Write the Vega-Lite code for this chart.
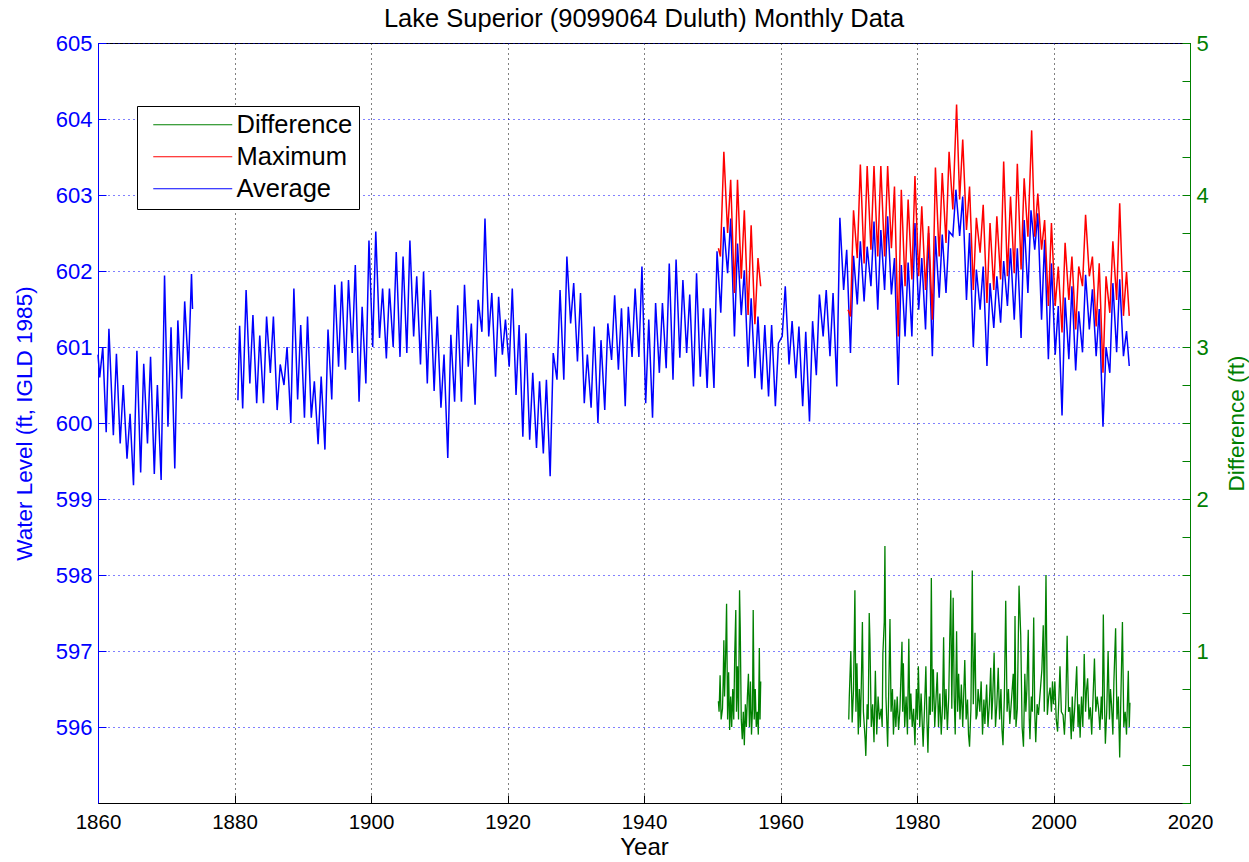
{
  "$schema": "https://vega.github.io/schema/vega-lite/v6.json",
  "width": 1092,
  "height": 760,
  "autosize": {"type": "none"},
  "padding": {"left": 98, "top": 43, "right": 59, "bottom": 59},
  "background": "white",
  "title": {"text": "Lake Superior (9099064 Duluth) Monthly Data", "fontSize": 25.5, "fontWeight": "normal", "font": "Liberation Sans", "color": "black", "offset": 0, "anchor": "middle"},
  "config": {
    "font": "Liberation Sans",
    "view": {"stroke": "black", "strokeWidth": 1},
    "axis": {"labelFont": "Liberation Sans", "titleFont": "Liberation Sans", "titleFontWeight": "normal", "labelFontSize": 22, "titleFontSize": 22.5, "tickSize": -8, "labelPadding": 14, "gridWidth": 1, "labelFlush": false}
  },
  "datasets": {
    "avg": [
      {"t":1860.0,"v":600.9},{"t":1860.25,"v":600.6},{"t":1860.7,"v":601.0},
      {"t":1861.2,"v":599.88},{"t":1861.6,"v":601.24},
      {"t":1862.25,"v":599.84},{"t":1862.7,"v":600.91},
      {"t":1863.25,"v":599.73},{"t":1863.7,"v":600.5},
      {"t":1864.25,"v":599.53},{"t":1864.7,"v":600.12},
      {"t":1865.2,"v":599.18},{"t":1865.7,"v":600.95},
      {"t":1866.25,"v":599.35},{"t":1866.7,"v":600.78},
      {"t":1867.25,"v":599.73},{"t":1867.7,"v":600.87},
      {"t":1868.25,"v":599.33},{"t":1868.7,"v":600.5},
      {"t":1869.25,"v":599.25},{"t":1869.75,"v":601.94},
      {"t":1870.25,"v":599.95},{"t":1870.7,"v":601.26},
      {"t":1871.25,"v":599.4},{"t":1871.7,"v":601.35},
      {"t":1872.25,"v":600.32},{"t":1872.7,"v":601.6},
      {"t":1873.25,"v":600.7},{"t":1873.7,"v":601.96},{"t":1873.85,"v":601.5},
      {"t":1877.0,"v":null},
      {"t":1880.5,"v":600.3},{"t":1880.75,"v":601.28},
      {"t":1881.2,"v":600.19},{"t":1881.7,"v":601.75},
      {"t":1882.25,"v":600.52},{"t":1882.7,"v":601.42},
      {"t":1883.25,"v":600.26},{"t":1883.7,"v":601.15},
      {"t":1884.25,"v":600.26},{"t":1884.7,"v":601.4},
      {"t":1885.25,"v":600.66},{"t":1885.7,"v":601.4},
      {"t":1886.25,"v":600.17},{"t":1886.7,"v":600.77},
      {"t":1887.25,"v":600.5},{"t":1887.7,"v":601.0},
      {"t":1888.25,"v":600.0},{"t":1888.7,"v":601.77},
      {"t":1889.25,"v":600.31},{"t":1889.7,"v":601.29},
      {"t":1890.25,"v":600.07},{"t":1890.7,"v":601.4},
      {"t":1891.25,"v":600.07},{"t":1891.7,"v":600.55},
      {"t":1892.25,"v":599.72},{"t":1892.7,"v":600.61},
      {"t":1893.25,"v":599.65},{"t":1893.7,"v":601.23},
      {"t":1894.25,"v":600.31},{"t":1894.7,"v":601.82},
      {"t":1895.25,"v":600.74},{"t":1895.7,"v":601.86},
      {"t":1896.25,"v":600.7},{"t":1896.7,"v":601.88},
      {"t":1897.25,"v":600.92},{"t":1897.7,"v":602.08},
      {"t":1898.25,"v":600.28},{"t":1898.7,"v":601.53},
      {"t":1899.25,"v":600.52},{"t":1899.7,"v":602.4},
      {"t":1900.25,"v":601.0},{"t":1900.7,"v":602.52},
      {"t":1901.25,"v":601.12},{"t":1901.7,"v":601.77},
      {"t":1902.25,"v":600.85},{"t":1902.7,"v":601.77},
      {"t":1903.25,"v":601.0},{"t":1903.7,"v":602.25},
      {"t":1904.25,"v":600.87},{"t":1904.7,"v":602.19},
      {"t":1905.25,"v":600.92},{"t":1905.7,"v":602.4},
      {"t":1906.25,"v":601.14},{"t":1906.7,"v":601.93},
      {"t":1907.25,"v":600.77},{"t":1907.7,"v":601.99},
      {"t":1908.25,"v":600.52},{"t":1908.7,"v":601.75},
      {"t":1909.25,"v":600.42},{"t":1909.7,"v":601.4},
      {"t":1910.25,"v":600.2},{"t":1910.7,"v":600.9},
      {"t":1911.25,"v":599.54},{"t":1911.7,"v":601.16},
      {"t":1912.25,"v":600.28},{"t":1912.7,"v":601.55},
      {"t":1913.25,"v":600.28},{"t":1913.7,"v":601.82},
      {"t":1914.25,"v":600.74},{"t":1914.7,"v":601.31},
      {"t":1915.25,"v":600.24},{"t":1915.7,"v":601.62},
      {"t":1916.25,"v":601.2},{"t":1916.7,"v":602.69},
      {"t":1917.25,"v":601.14},{"t":1917.7,"v":601.71},
      {"t":1918.25,"v":600.61},{"t":1918.7,"v":601.66},
      {"t":1919.25,"v":600.9},{"t":1919.7,"v":601.36},
      {"t":1920.25,"v":600.74},{"t":1920.7,"v":601.77},
      {"t":1921.25,"v":600.37},{"t":1921.7,"v":601.29},
      {"t":1922.25,"v":599.82},{"t":1922.7,"v":601.18},
      {"t":1923.25,"v":599.78},{"t":1923.7,"v":600.66},
      {"t":1924.25,"v":599.67},{"t":1924.7,"v":600.55},
      {"t":1925.25,"v":599.6},{"t":1925.7,"v":600.57},
      {"t":1926.25,"v":599.3},{"t":1926.7,"v":600.92},
      {"t":1927.25,"v":600.57},{"t":1927.7,"v":601.75},
      {"t":1928.25,"v":600.57},{"t":1928.7,"v":602.19},
      {"t":1929.25,"v":601.31},{"t":1929.7,"v":601.84},
      {"t":1930.25,"v":600.81},{"t":1930.7,"v":601.71},
      {"t":1931.25,"v":600.26},{"t":1931.7,"v":600.9},
      {"t":1932.25,"v":600.2},{"t":1932.7,"v":601.27},
      {"t":1933.25,"v":600.0},{"t":1933.7,"v":601.09},
      {"t":1934.25,"v":600.17},{"t":1934.7,"v":601.31},
      {"t":1935.25,"v":600.83},{"t":1935.7,"v":601.68},
      {"t":1936.25,"v":600.7},{"t":1936.7,"v":601.51},
      {"t":1937.25,"v":600.22},{"t":1937.7,"v":601.53},
      {"t":1938.25,"v":600.87},{"t":1938.7,"v":601.77},
      {"t":1939.25,"v":600.87},{"t":1939.7,"v":602.06},
      {"t":1940.25,"v":600.26},{"t":1940.7,"v":601.36},
      {"t":1941.25,"v":600.07},{"t":1941.7,"v":601.58},
      {"t":1942.25,"v":600.66},{"t":1942.7,"v":601.58},
      {"t":1943.25,"v":600.72},{"t":1943.7,"v":602.1},
      {"t":1944.25,"v":600.57},{"t":1944.7,"v":602.15},
      {"t":1945.25,"v":600.86},{"t":1945.7,"v":601.88},
      {"t":1946.25,"v":600.92},{"t":1946.7,"v":601.69},
      {"t":1947.25,"v":600.48},{"t":1947.7,"v":601.97},
      {"t":1948.25,"v":600.61},{"t":1948.7,"v":601.51},
      {"t":1949.25,"v":600.46},{"t":1949.7,"v":601.51},
      {"t":1950.25,"v":600.46},{"t":1950.7,"v":602.26},
      {"t":1951.25,"v":601.45},{"t":1951.7,"v":602.58},
      {"t":1952.25,"v":601.97},{"t":1952.7,"v":602.69},
      {"t":1953.25,"v":601.14},{"t":1953.7,"v":602.36},
      {"t":1954.25,"v":601.42},{"t":1954.7,"v":602.01},
      {"t":1955.25,"v":600.74},{"t":1955.7,"v":601.64},
      {"t":1956.25,"v":600.59},{"t":1956.7,"v":601.4},
      {"t":1957.25,"v":600.44},{"t":1957.7,"v":601.29},
      {"t":1958.25,"v":600.35},{"t":1958.7,"v":601.29},
      {"t":1959.25,"v":600.22},{"t":1959.7,"v":601.05},
      {"t":1960.25,"v":601.14},{"t":1960.7,"v":601.8},
      {"t":1961.25,"v":600.77},{"t":1961.7,"v":601.34},
      {"t":1962.25,"v":600.59},{"t":1962.7,"v":601.27},
      {"t":1963.25,"v":600.22},{"t":1963.7,"v":601.2},
      {"t":1964.25,"v":600.02},{"t":1964.7,"v":601.34},
      {"t":1965.25,"v":600.63},{"t":1965.7,"v":601.69},
      {"t":1966.25,"v":601.14},{"t":1966.7,"v":601.75},
      {"t":1967.25,"v":600.88},{"t":1967.7,"v":601.71},
      {"t":1968.25,"v":600.48},{"t":1968.7,"v":602.7},
      {"t":1969.25,"v":601.75},{"t":1969.7,"v":602.28},
      {"t":1970.25,"v":600.92},{"t":1970.7,"v":602.2},
      {"t":1971.25,"v":601.56},{"t":1971.7,"v":602.39},
      {"t":1972.25,"v":601.6},{"t":1972.7,"v":602.32},
      {"t":1973.25,"v":601.8},{"t":1973.7,"v":602.65},
      {"t":1974.25,"v":601.49},{"t":1974.7,"v":602.54},
      {"t":1975.25,"v":601.75},{"t":1975.7,"v":602.72},
      {"t":1976.25,"v":601.69},{"t":1976.7,"v":602.17},
      {"t":1977.25,"v":600.5},{"t":1977.7,"v":602.08},
      {"t":1978.25,"v":601.14},{"t":1978.7,"v":602.11},
      {"t":1979.25,"v":601.14},{"t":1979.7,"v":602.63},
      {"t":1980.25,"v":601.49},{"t":1980.7,"v":602.17},
      {"t":1981.25,"v":601.23},{"t":1981.7,"v":602.5},
      {"t":1982.25,"v":600.88},{"t":1982.7,"v":602.46},
      {"t":1983.25,"v":601.65},{"t":1983.7,"v":602.48},
      {"t":1984.25,"v":601.71},{"t":1984.7,"v":602.52},
      {"t":1985.25,"v":602.46},{"t":1985.7,"v":603.07},
      {"t":1986.25,"v":602.46},{"t":1986.7,"v":602.98},
      {"t":1987.25,"v":601.62},{"t":1987.7,"v":602.5},
      {"t":1988.25,"v":601.0},{"t":1988.7,"v":602.02},
      {"t":1989.25,"v":601.49},{"t":1989.7,"v":602.06},
      {"t":1990.25,"v":600.75},{"t":1990.7,"v":601.84},
      {"t":1991.25,"v":601.25},{"t":1991.7,"v":601.93},
      {"t":1992.25,"v":601.32},{"t":1992.7,"v":602.13},
      {"t":1993.25,"v":601.54},{"t":1993.7,"v":602.3},
      {"t":1994.25,"v":601.36},{"t":1994.7,"v":602.3},
      {"t":1995.25,"v":601.12},{"t":1995.7,"v":602.67},
      {"t":1996.25,"v":601.71},{"t":1996.7,"v":602.8},
      {"t":1997.25,"v":602.28},{"t":1997.7,"v":602.76},
      {"t":1998.25,"v":601.36},{"t":1998.7,"v":602.41},
      {"t":1999.25,"v":600.84},{"t":1999.7,"v":602.1},
      {"t":2000.25,"v":600.9},{"t":2000.7,"v":601.54},
      {"t":2001.25,"v":600.1},{"t":2001.7,"v":601.65},
      {"t":2002.25,"v":600.84},{"t":2002.7,"v":601.8},
      {"t":2003.25,"v":600.69},{"t":2003.7,"v":601.47},
      {"t":2004.25,"v":600.93},{"t":2004.7,"v":601.95},
      {"t":2005.25,"v":601.23},{"t":2005.7,"v":601.76},
      {"t":2006.25,"v":600.88},{"t":2006.7,"v":601.5},
      {"t":2007.25,"v":599.95},{"t":2007.7,"v":601.0},
      {"t":2008.25,"v":600.66},{"t":2008.7,"v":601.84},
      {"t":2009.25,"v":600.93},{"t":2009.7,"v":601.89},
      {"t":2010.25,"v":600.88},{"t":2010.7,"v":601.21},
      {"t":2011.1,"v":600.75}
    ],
    "max": [
      {"t":1950.9,"v":602.3},{"t":1951.2,"v":602.19},{"t":1951.7,"v":603.57},
      {"t":1952.25,"v":602.5},{"t":1952.7,"v":603.2},
      {"t":1953.25,"v":601.71},{"t":1953.7,"v":603.2},
      {"t":1954.25,"v":601.9},{"t":1954.7,"v":602.8},
      {"t":1955.25,"v":601.42},{"t":1955.7,"v":602.6},
      {"t":1956.25,"v":601.3},{"t":1956.7,"v":602.17},
      {"t":1957.1,"v":601.8},
      {"t":1963.0,"v":null},
      {"t":1969.9,"v":601.49},{"t":1970.25,"v":601.4},{"t":1970.7,"v":602.8},
      {"t":1971.25,"v":602.17},{"t":1971.7,"v":603.4},
      {"t":1972.25,"v":602.1},{"t":1972.7,"v":603.38},
      {"t":1973.25,"v":602.28},{"t":1973.7,"v":603.38},
      {"t":1974.25,"v":602.19},{"t":1974.7,"v":603.38},
      {"t":1975.25,"v":602.19},{"t":1975.7,"v":603.38},
      {"t":1976.25,"v":602.3},{"t":1976.7,"v":603.11},
      {"t":1977.25,"v":601.14},{"t":1977.7,"v":603.07},
      {"t":1978.25,"v":601.8},{"t":1978.7,"v":602.94},
      {"t":1979.25,"v":601.89},{"t":1979.7,"v":603.25},
      {"t":1980.25,"v":601.93},{"t":1980.7,"v":602.85},
      {"t":1981.25,"v":601.75},{"t":1981.7,"v":602.59},
      {"t":1982.25,"v":601.36},{"t":1982.7,"v":603.36},
      {"t":1983.25,"v":602.19},{"t":1983.7,"v":603.29},
      {"t":1984.25,"v":602.37},{"t":1984.7,"v":603.57},
      {"t":1985.25,"v":602.81},{"t":1985.8,"v":604.19},
      {"t":1986.25,"v":602.94},{"t":1986.7,"v":603.73},
      {"t":1987.25,"v":602.54},{"t":1987.7,"v":603.11},
      {"t":1988.25,"v":601.75},{"t":1988.7,"v":602.7},
      {"t":1989.25,"v":602.24},{"t":1989.7,"v":602.87},
      {"t":1990.25,"v":601.58},{"t":1990.7,"v":602.63},
      {"t":1991.25,"v":601.75},{"t":1991.7,"v":602.72},
      {"t":1992.25,"v":601.89},{"t":1992.7,"v":603.44},
      {"t":1993.25,"v":601.93},{"t":1993.7,"v":602.98},
      {"t":1994.25,"v":601.97},{"t":1994.7,"v":603.41},
      {"t":1995.25,"v":602.02},{"t":1995.7,"v":603.22},
      {"t":1996.25,"v":602.45},{"t":1996.8,"v":603.85},
      {"t":1997.25,"v":602.45},{"t":1997.7,"v":603.02},
      {"t":1998.25,"v":602.28},{"t":1998.7,"v":602.67},
      {"t":1999.25,"v":601.54},{"t":1999.7,"v":602.63},
      {"t":2000.25,"v":601.54},{"t":2000.7,"v":602.06},
      {"t":2001.25,"v":601.19},{"t":2001.7,"v":602.37},
      {"t":2002.25,"v":601.62},{"t":2002.7,"v":602.19},
      {"t":2003.25,"v":601.23},{"t":2003.7,"v":602.06},
      {"t":2004.25,"v":601.8},{"t":2004.7,"v":602.74},
      {"t":2005.25,"v":601.93},{"t":2005.7,"v":602.19},
      {"t":2006.25,"v":601.27},{"t":2006.7,"v":602.1},
      {"t":2007.25,"v":600.66},{"t":2007.7,"v":601.93},
      {"t":2008.25,"v":601.45},{"t":2008.7,"v":602.39},
      {"t":2009.25,"v":601.62},{"t":2009.7,"v":602.89},
      {"t":2010.25,"v":601.41},{"t":2010.7,"v":601.99},
      {"t":2011.1,"v":601.41}
    ],
    "diff": [
      {"t":1950.9,"v":0.67},{"t":1951.0,"v":0.6},{"t":1951.15,"v":0.84},{"t":1951.3,"v":0.55},{"t":1951.5,"v":0.62},{"t":1951.6,"v":0.8},{"t":1951.7,"v":1.07},{"t":1951.8,"v":0.7},{"t":1951.95,"v":0.95},
      {"t":1952.1,"v":1.31},{"t":1952.25,"v":0.55},{"t":1952.4,"v":0.86},{"t":1952.55,"v":0.48},{"t":1952.7,"v":0.7},{"t":1952.85,"v":0.5},
      {"t":1953.0,"v":0.75},{"t":1953.15,"v":0.55},{"t":1953.3,"v":0.99},{"t":1953.45,"v":1.27},{"t":1953.55,"v":0.6},{"t":1953.7,"v":0.9},{"t":1953.85,"v":0.55},
      {"t":1954.0,"v":1.4},{"t":1954.1,"v":1.16},{"t":1954.25,"v":0.55},{"t":1954.4,"v":0.42},{"t":1954.55,"v":0.6},{"t":1954.7,"v":0.38},{"t":1954.85,"v":0.65},
      {"t":1955.0,"v":0.5},{"t":1955.15,"v":0.7},{"t":1955.3,"v":0.85},{"t":1955.45,"v":0.5},{"t":1955.6,"v":0.8},{"t":1955.75,"v":0.45},{"t":1955.9,"v":0.62},
      {"t":1956.0,"v":1.27},{"t":1956.15,"v":0.55},{"t":1956.3,"v":0.75},{"t":1956.45,"v":0.5},{"t":1956.6,"v":0.6},{"t":1956.75,"v":0.45},{"t":1956.9,"v":1.02},
      {"t":1957.0,"v":0.55},{"t":1957.1,"v":0.8},
      {"t":1963.0,"v":null},
      {"t":1970.0,"v":0.55},{"t":1970.08,"v":0.7},{"t":1970.3,"v":1.0},{"t":1970.5,"v":0.53},{"t":1970.7,"v":0.75},{"t":1970.9,"v":1.4},
      {"t":1971.05,"v":0.6},{"t":1971.2,"v":0.92},{"t":1971.4,"v":0.45},{"t":1971.55,"v":0.75},{"t":1971.7,"v":0.5},{"t":1971.85,"v":0.8},
      {"t":1972.0,"v":1.19},{"t":1972.15,"v":0.6},{"t":1972.4,"v":0.42},{"t":1972.5,"v":0.31},{"t":1972.7,"v":0.65},{"t":1972.85,"v":0.55},
      {"t":1973.0,"v":1.25},{"t":1973.1,"v":1.08},{"t":1973.3,"v":0.5},{"t":1973.5,"v":0.65},{"t":1973.7,"v":0.4},{"t":1973.9,"v":0.87},
      {"t":1974.1,"v":0.45},{"t":1974.3,"v":0.7},{"t":1974.5,"v":0.55},{"t":1974.75,"v":0.62},{"t":1974.9,"v":0.5},
      {"t":1975.0,"v":0.98},{"t":1975.2,"v":1.19},{"t":1975.3,"v":1.69},{"t":1975.45,"v":0.7},{"t":1975.7,"v":0.37},{"t":1975.85,"v":0.72},
      {"t":1976.04,"v":1.21},{"t":1976.2,"v":0.6},{"t":1976.4,"v":0.75},{"t":1976.55,"v":0.45},{"t":1976.75,"v":0.68},{"t":1976.9,"v":0.5},
      {"t":1977.1,"v":0.7},{"t":1977.3,"v":0.48},{"t":1977.5,"v":0.62},{"t":1977.8,"v":1.06},{"t":1977.9,"v":0.6},
      {"t":1978.0,"v":0.92},{"t":1978.2,"v":0.5},{"t":1978.4,"v":0.7},{"t":1978.6,"v":0.45},{"t":1978.8,"v":1.08},{"t":1978.95,"v":0.55},
      {"t":1979.1,"v":0.72},{"t":1979.3,"v":0.5},{"t":1979.5,"v":0.62},{"t":1979.7,"v":0.38},{"t":1979.9,"v":0.75},
      {"t":1980.05,"v":0.55},{"t":1980.2,"v":0.9},{"t":1980.4,"v":0.5},{"t":1980.6,"v":0.72},{"t":1980.9,"v":0.37},
      {"t":1981.1,"v":0.62},{"t":1981.3,"v":0.9},{"t":1981.45,"v":0.55},{"t":1981.6,"v":0.33},{"t":1981.8,"v":0.7},{"t":1981.95,"v":0.58},
      {"t":1982.1,"v":1.48},{"t":1982.25,"v":0.6},{"t":1982.4,"v":0.88},{"t":1982.6,"v":0.5},{"t":1982.8,"v":0.7},{"t":1982.97,"v":0.86},
      {"t":1983.15,"v":0.5},{"t":1983.35,"v":0.72},{"t":1983.55,"v":0.45},{"t":1983.75,"v":0.65},{"t":1983.9,"v":1.09},
      {"t":1984.05,"v":0.55},{"t":1984.25,"v":0.75},{"t":1984.45,"v":0.48},{"t":1984.65,"v":0.7},{"t":1984.8,"v":1.08},{"t":1984.95,"v":1.4},
      {"t":1985.1,"v":0.62},{"t":1985.3,"v":1.35},{"t":1985.45,"v":0.7},{"t":1985.6,"v":0.45},{"t":1985.8,"v":1.13},{"t":1985.95,"v":0.6},
      {"t":1986.1,"v":0.85},{"t":1986.3,"v":0.55},{"t":1986.5,"v":0.78},{"t":1986.7,"v":0.5},{"t":1986.85,"v":0.72},
      {"t":1987.0,"v":0.94},{"t":1987.2,"v":0.55},{"t":1987.4,"v":0.68},{"t":1987.55,"v":0.45},{"t":1987.7,"v":0.37},{"t":1987.9,"v":0.62},
      {"t":1988.1,"v":1.53},{"t":1988.25,"v":0.65},{"t":1988.5,"v":1.12},{"t":1988.65,"v":0.55},{"t":1988.8,"v":0.58},{"t":1988.95,"v":0.75},
      {"t":1989.2,"v":0.6},{"t":1989.4,"v":0.8},{"t":1989.6,"v":0.45},{"t":1989.8,"v":0.68},{"t":1989.95,"v":0.52},
      {"t":1990.2,"v":0.78},{"t":1990.4,"v":0.5},{"t":1990.6,"v":0.65},{"t":1990.8,"v":0.89},{"t":1990.95,"v":0.55},
      {"t":1991.1,"v":0.7},{"t":1991.3,"v":0.99},{"t":1991.5,"v":0.5},{"t":1991.7,"v":0.65},{"t":1991.9,"v":0.89},
      {"t":1992.1,"v":0.55},{"t":1992.3,"v":0.75},{"t":1992.45,"v":0.48},{"t":1992.6,"v":0.38},{"t":1992.8,"v":0.7},
      {"t":1993.0,"v":1.33},{"t":1993.2,"v":0.6},{"t":1993.4,"v":0.75},{"t":1993.6,"v":0.52},{"t":1993.8,"v":0.65},
      {"t":1994.1,"v":0.85},{"t":1994.25,"v":0.55},{"t":1994.36,"v":1.23},{"t":1994.5,"v":0.5},{"t":1994.7,"v":0.62},{"t":1994.95,"v":1.43},
      {"t":1995.2,"v":1.1},{"t":1995.4,"v":0.5},{"t":1995.6,"v":0.37},{"t":1995.8,"v":0.85},{"t":1995.95,"v":0.6},
      {"t":1996.1,"v":0.75},{"t":1996.3,"v":1.14},{"t":1996.45,"v":0.55},{"t":1996.55,"v":0.42},{"t":1996.75,"v":0.7},{"t":1996.9,"v":0.6},
      {"t":1997.1,"v":1.22},{"t":1997.25,"v":0.6},{"t":1997.4,"v":0.4},{"t":1997.6,"v":0.65},{"t":1997.8,"v":0.58},
      {"t":1998.0,"v":0.7},{"t":1998.3,"v":0.88},{"t":1998.5,"v":1.17},{"t":1998.65,"v":0.6},{"t":1998.9,"v":1.5},
      {"t":1999.1,"v":0.58},{"t":1999.3,"v":0.7},{"t":1999.5,"v":0.76},{"t":1999.7,"v":0.6},{"t":1999.85,"v":0.8},
      {"t":2000.0,"v":0.65},{"t":2000.2,"v":0.8},{"t":2000.4,"v":0.55},{"t":2000.6,"v":0.47},{"t":2000.8,"v":0.7},{"t":2000.95,"v":0.9},
      {"t":2001.15,"v":0.6},{"t":2001.4,"v":0.58},{"t":2001.6,"v":0.45},{"t":2001.8,"v":0.65},
      {"t":2002.0,"v":1.1},{"t":2002.2,"v":0.6},{"t":2002.4,"v":0.63},{"t":2002.6,"v":0.42},{"t":2002.75,"v":0.7},{"t":2002.9,"v":0.47},
      {"t":2003.1,"v":0.62},{"t":2003.4,"v":0.9},{"t":2003.6,"v":0.5},{"t":2003.75,"v":0.65},{"t":2003.9,"v":0.43},
      {"t":2004.1,"v":0.7},{"t":2004.3,"v":0.5},{"t":2004.5,"v":0.98},{"t":2004.7,"v":0.6},{"t":2004.85,"v":0.75},
      {"t":2005.0,"v":0.82},{"t":2005.2,"v":0.55},{"t":2005.4,"v":0.63},{"t":2005.6,"v":0.45},{"t":2005.8,"v":0.7},
      {"t":2006.0,"v":0.95},{"t":2006.2,"v":0.6},{"t":2006.4,"v":0.7},{"t":2006.6,"v":0.62},{"t":2006.8,"v":0.48},
      {"t":2007.0,"v":0.7},{"t":2007.15,"v":0.55},{"t":2007.3,"v":1.24},{"t":2007.45,"v":0.7},{"t":2007.6,"v":0.39},{"t":2007.8,"v":0.6},
      {"t":2008.0,"v":1.0},{"t":2008.2,"v":0.55},{"t":2008.35,"v":0.75},{"t":2008.5,"v":0.65},{"t":2008.7,"v":0.45},{"t":2008.85,"v":0.8},
      {"t":2009.1,"v":1.15},{"t":2009.3,"v":0.55},{"t":2009.5,"v":0.7},{"t":2009.7,"v":0.3},{"t":2009.85,"v":0.65},
      {"t":2010.1,"v":1.19},{"t":2010.3,"v":0.5},{"t":2010.5,"v":0.6},{"t":2010.7,"v":0.45},{"t":2010.96,"v":0.87},
      {"t":2011.1,"v":0.5},{"t":2011.2,"v":0.66}
    ]
  },
  "encoding": {
    "x": {
      "field": "t", "type": "quantitative",
      "scale": {"domain": [1860, 2020], "nice": false, "zero": false},
      "axis": {"values": [1860,1880,1900,1920,1940,1960,1980,2000,2020], "format": "d", "title": "Year", "titleFontSize": 24, "labelFontSize": 20.5, "labelColor": "black", "titleColor": "black", "tickColor": "black", "domainColor": "black", "grid": true, "gridColor": "black", "gridDash": [1,4], "titlePadding": 3, "labelPadding": 17}
    }
  },
  "layer": [
    {
      "layer": [
        {
          "data": {"name": "avg"},
          "mark": {"type": "line", "strokeWidth": 1.5, "invalid": "break-paths-show-domains"},
          "encoding": {
            "y": {"field": "v", "type": "quantitative", "scale": {"domain": [595, 605], "nice": false, "zero": false},
              "axis": {"values": [596,597,598,599,600,601,602,603,604,605], "format": "d", "title": "Water Level (ft, IGLD 1985)", "labelColor": "#0000ff", "titleColor": "#0000ff", "tickColor": "#0000ff", "domainColor": "#0000ff", "grid": true, "gridColor": "#0000ff", "gridDash": [1,4], "titleX": -74, "titleBaseline": "middle"}},
            "color": {"datum": "Average", "type": "nominal", "scale": {"domain": ["Difference", "Maximum", "Average"], "range": ["#008000", "#ff0000", "#0000ff"]},
              "legend": {"orient": "none", "legendX": 39, "legendY": 63, "title": null, "symbolType": "M-4,0H4", "symbolSize": 390, "symbolStrokeWidth": 1, "symbolOffset": 37, "labelFontSize": 25.5, "labelFont": "Liberation Sans", "labelColor": "black", "strokeColor": "black", "fillColor": "white", "padding": 6, "labelOffset": 31, "rowPadding": 5}}
          }
        },
        {
          "data": {"name": "max"},
          "mark": {"type": "line", "strokeWidth": 1.5, "invalid": "break-paths-show-domains"},
          "encoding": {
            "y": {"field": "v", "type": "quantitative"},
            "color": {"datum": "Maximum", "type": "nominal"}
          }
        }
      ]
    },
    {
      "data": {"name": "diff"},
      "mark": {"type": "line", "strokeWidth": 1.3, "invalid": "break-paths-show-domains"},
      "encoding": {
        "y": {"field": "v", "type": "quantitative", "scale": {"domain": [0, 5], "nice": false, "zero": false},
          "axis": {"orient": "right", "values": [0,0.25,0.5,0.75,1,1.25,1.5,1.75,2,2.25,2.5,2.75,3,3.25,3.5,3.75,4,4.25,4.5,4.75,5], "labelExpr": "datum.value % 1 === 0 && datum.value > 0 ? datum.value : ''", "title": "Difference (ft)", "titleAngle": 270, "titleX": 46, "titleBaseline": "middle", "labelColor": "#008000", "titleColor": "#008000", "tickColor": "#008000", "domainColor": "#008000", "grid": false}},
        "color": {"datum": "Difference", "type": "nominal"}
      }
    }
  ],
  "resolve": {"scale": {"y": "independent"}}
}
